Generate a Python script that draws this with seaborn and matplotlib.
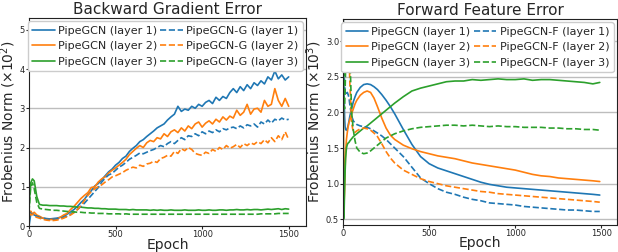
import numpy as np
import matplotlib
matplotlib.use("Agg")
import matplotlib.pyplot as plt
import seaborn as sns

# ---- Backward gradient error (x10^2) ----
bwd_epochs = np.concatenate([[0, 5, 10, 20, 30, 45, 60], np.arange(80, 1501, 20)])

bwd_pipe_l1 = [0.0, 0.15, 0.3, 0.32, 0.28, 0.25, 0.22,
               0.2, 0.19, 0.18, 0.19, 0.2, 0.22, 0.25, 0.3, 0.36, 0.42,
               0.5, 0.6, 0.68, 0.8, 0.9, 1.02, 1.08, 1.18, 1.28, 1.38,
               1.45, 1.55, 1.62, 1.72, 1.78, 1.9, 1.98, 2.05, 2.15, 2.2,
               2.28, 2.35, 2.42, 2.5, 2.55, 2.6, 2.7, 2.78, 2.85, 3.05,
               2.92, 2.98, 2.95, 3.05, 3.0, 3.1, 3.05, 3.15, 3.2, 3.12,
               3.28, 3.2, 3.3, 3.25, 3.4, 3.5, 3.4, 3.55, 3.45, 3.6,
               3.5, 3.65, 3.58, 3.7, 3.62, 3.8, 3.72, 3.95, 3.75, 3.85,
               3.72, 3.8]
bwd_pipe_l2 = [0.3, 0.35, 0.38, 0.3, 0.35, 0.28, 0.25,
               0.2, 0.18, 0.16, 0.17, 0.18, 0.22, 0.28, 0.32, 0.42, 0.5,
               0.6, 0.7, 0.78, 0.85, 0.98, 1.0, 1.12, 1.2, 1.25, 1.35,
               1.42, 1.48, 1.55, 1.62, 1.7, 1.82, 1.9, 1.98, 2.05, 2.0,
               2.12, 2.18, 2.15, 2.25, 2.22, 2.35, 2.28, 2.4, 2.45, 2.38,
               2.5, 2.42, 2.55, 2.48, 2.6, 2.65, 2.52, 2.62, 2.68, 2.6,
               2.72, 2.65, 2.78, 2.7, 2.8, 2.75, 2.95, 2.82, 2.9, 3.1,
               2.85, 2.98, 3.0, 2.9, 3.2, 3.05, 3.1, 3.5, 3.2, 3.05,
               3.25, 3.05]
bwd_pipe_l3 = [0.4, 0.8, 1.1, 1.2, 1.15, 0.75, 0.55,
               0.53, 0.53, 0.52, 0.52, 0.52, 0.51, 0.51, 0.5, 0.5, 0.49,
               0.48, 0.48, 0.47, 0.46, 0.46, 0.45, 0.45, 0.44, 0.44, 0.43,
               0.43, 0.43, 0.42, 0.42, 0.42, 0.41, 0.42, 0.41, 0.41, 0.41,
               0.41, 0.4, 0.41, 0.4, 0.41, 0.4, 0.4, 0.41, 0.4, 0.4,
               0.4, 0.41, 0.4, 0.4, 0.4, 0.41, 0.4, 0.4, 0.41, 0.4,
               0.4, 0.41, 0.41, 0.4, 0.41, 0.41, 0.42, 0.41, 0.41, 0.42,
               0.41, 0.42, 0.42, 0.41, 0.42, 0.43, 0.42, 0.43, 0.44, 0.42,
               0.44, 0.43]
bwd_g_l1 = [0.3, 0.35, 0.32, 0.3, 0.28, 0.25, 0.22,
            0.2, 0.18, 0.17, 0.17, 0.18, 0.2, 0.22, 0.25, 0.3, 0.35,
            0.42, 0.5, 0.58, 0.68, 0.78, 0.88, 0.98, 1.12, 1.22, 1.3,
            1.34, 1.42, 1.5, 1.55, 1.62, 1.7, 1.75, 1.8, 1.86, 1.84,
            1.88, 1.92, 1.95, 2.0, 2.05, 2.02, 2.1, 2.15, 2.1, 2.18,
            2.25, 2.2, 2.3, 2.28, 2.35, 2.3, 2.4, 2.35, 2.42, 2.38,
            2.45, 2.4, 2.48, 2.45, 2.5, 2.52, 2.48, 2.55, 2.5, 2.58,
            2.55, 2.6, 2.52, 2.65, 2.6, 2.7, 2.62, 2.72, 2.68, 2.75,
            2.7, 2.72]
bwd_g_l2 = [0.3, 0.32, 0.28, 0.3, 0.25, 0.22, 0.2,
            0.17, 0.15, 0.14, 0.14, 0.15, 0.17, 0.2, 0.24, 0.28, 0.34,
            0.42, 0.52, 0.65, 0.78, 0.88, 0.95, 1.0, 1.05, 1.12, 1.18,
            1.25, 1.28, 1.32, 1.36, 1.42, 1.46, 1.5, 1.48, 1.55, 1.52,
            1.58, 1.6, 1.65, 1.62, 1.72, 1.75, 1.8, 1.78, 1.9, 1.85,
            1.97, 1.92, 2.0, 1.95, 1.85, 1.82, 1.8, 1.88, 1.85, 1.95,
            1.9, 2.0, 1.95, 2.05, 1.98, 2.02, 2.08, 2.0, 2.1, 2.05,
            2.12, 2.08, 2.15, 2.1, 2.2, 2.12, 2.25, 2.15, 2.3, 2.2,
            2.4, 2.2]
bwd_g_l3 = [0.35, 0.7, 1.0, 1.1, 0.95, 0.6, 0.45,
            0.43, 0.42, 0.41, 0.4, 0.4, 0.39, 0.38, 0.37, 0.36, 0.36,
            0.35, 0.35, 0.34, 0.34, 0.33, 0.33, 0.32, 0.32, 0.32, 0.31,
            0.31, 0.31, 0.31, 0.3, 0.31, 0.3, 0.3, 0.3, 0.3, 0.3,
            0.3, 0.3, 0.3, 0.3, 0.3, 0.3, 0.3, 0.3, 0.3, 0.3,
            0.3, 0.3, 0.3, 0.3, 0.3, 0.3, 0.3, 0.3, 0.3, 0.3,
            0.3, 0.3, 0.3, 0.3, 0.3, 0.3, 0.3, 0.3, 0.3, 0.3,
            0.3, 0.3, 0.3, 0.31, 0.31, 0.31, 0.31, 0.31, 0.32, 0.32,
            0.32, 0.32]

# ---- Forward feature error (x10^3) ----
fwd_epochs = [0, 3, 6, 9, 12, 15, 20, 25, 30, 35,
              40, 50, 60, 70, 80, 100, 120, 140, 160, 180,
              200, 225, 250, 275, 300, 350, 400, 450, 500, 550,
              600, 650, 700, 750, 800, 850, 900, 950, 1000, 1050,
              1100, 1150, 1200, 1250, 1300, 1350, 1400, 1450, 1490]

fwd_pipe_l1 = [3.5, 2.9, 2.3, 1.95, 1.8, 1.76, 1.75, 1.77, 1.82, 1.88,
               1.95, 2.05, 2.15, 2.22, 2.28, 2.35, 2.39, 2.4, 2.39, 2.36,
               2.32, 2.25, 2.17, 2.08, 1.98, 1.76, 1.55, 1.38, 1.28, 1.22,
               1.18, 1.14, 1.1, 1.06, 1.02, 0.99, 0.97, 0.95, 0.94, 0.93,
               0.92, 0.91, 0.9, 0.89, 0.88, 0.87, 0.86, 0.85, 0.84]
fwd_pipe_l2 = [3.4, 1.5, 0.72, 0.9, 1.2, 1.45, 1.62, 1.72, 1.8, 1.86,
               1.9, 1.98, 2.05, 2.12, 2.17, 2.24, 2.28, 2.3, 2.28, 2.2,
               2.08, 1.92, 1.78, 1.68, 1.62, 1.54, 1.49, 1.45, 1.42, 1.39,
               1.37, 1.35, 1.32, 1.29, 1.27, 1.25, 1.23, 1.21, 1.19, 1.16,
               1.13, 1.11, 1.1, 1.08, 1.07, 1.06, 1.05, 1.04, 1.03]
fwd_pipe_l3 = [3.6, 0.5, 0.55, 0.9, 1.15, 1.35, 1.5, 1.55, 1.57, 1.58,
               1.6, 1.63, 1.66, 1.68, 1.7, 1.74, 1.78, 1.81, 1.85, 1.89,
               1.93, 1.98, 2.03, 2.08, 2.13, 2.22, 2.3, 2.34, 2.37, 2.4,
               2.43, 2.44, 2.44, 2.46, 2.45, 2.46, 2.47, 2.46, 2.46, 2.47,
               2.45, 2.46, 2.46, 2.45, 2.44, 2.43, 2.42, 2.4, 2.42]
fwd_f_l1 = [3.6, 3.2, 2.8, 2.45, 2.3, 2.25, 2.25, 2.28, 2.25, 2.2,
            2.1, 1.95, 1.88, 1.85, 1.83, 1.81, 1.8, 1.79, 1.77, 1.74,
            1.71, 1.67, 1.62, 1.56, 1.5, 1.38, 1.23, 1.08, 1.0, 0.93,
            0.88, 0.85, 0.81, 0.78, 0.76, 0.73, 0.72, 0.71, 0.7, 0.68,
            0.67, 0.66, 0.65, 0.64, 0.63, 0.63, 0.62, 0.61, 0.61]
fwd_f_l2 = [3.6, 3.0, 2.7, 3.0, 3.25, 3.25, 3.2, 3.25, 3.1, 2.8,
            2.4, 1.85, 1.72, 1.72, 1.74, 1.77, 1.78, 1.77, 1.75, 1.71,
            1.66, 1.56, 1.45, 1.36, 1.29, 1.19, 1.13, 1.07, 1.03, 1.0,
            0.97, 0.95, 0.93, 0.91, 0.89, 0.88, 0.86, 0.85, 0.84, 0.83,
            0.82, 0.81, 0.8, 0.79, 0.78, 0.77, 0.76, 0.75, 0.74]
fwd_f_l3 = [3.6, 2.8, 2.1, 2.05, 2.3, 2.6, 2.9, 3.0, 3.05, 3.05,
            2.8, 2.0, 1.75, 1.6, 1.5, 1.44, 1.42, 1.43, 1.46, 1.5,
            1.54, 1.59, 1.64, 1.67, 1.7, 1.74, 1.77, 1.79, 1.8, 1.81,
            1.82, 1.82, 1.81, 1.82, 1.81, 1.8, 1.81, 1.8, 1.8, 1.79,
            1.79, 1.79, 1.78, 1.78, 1.77, 1.77, 1.76, 1.76, 1.75]

layer_names = ["layer 1", "layer 2", "layer 3"]
colors = ["#1f77b4", "#ff7f0e", "#2ca02c"]

sns.set_style("ticks")
plt.rcParams["font.family"] = ["DejaVu Sans"]

fig = plt.figure(figsize=(6.18, 2.52), dpi=100)
ax_b = fig.add_axes([29 / 618, 26 / 252, 277 / 618, 208 / 252])
ax_f = fig.add_axes([343 / 618, 27 / 252, 274 / 618, 206 / 252])


def draw_panel(ax, epochs, solid, dashed, other_name):
    for i, ys in enumerate(solid):
        sns.lineplot(x=epochs, y=ys, ax=ax, color=colors[i], lw=1.2,
                     label=f"PipeGCN ({layer_names[i]})")
    for i, ys in enumerate(dashed):
        sns.lineplot(x=epochs, y=ys, ax=ax, color=colors[i], lw=1.2,
                     linestyle="--", label=f"{other_name} ({layer_names[i]})")
    ax.yaxis.grid(True, color="#bdbdbd", lw=1)
    ax.set_axisbelow(True)
    ax.tick_params(labelsize=6, length=2, width=0.8, pad=0.8)
    ax.set_xlabel("Epoch", fontsize=10, labelpad=-1)
    for sp in ax.spines.values():
        sp.set_color("#222222")
        sp.set_linewidth(0.8)
    ax.legend(loc="upper right", ncol=2, fontsize=8, handlelength=2.0,
              columnspacing=0.3, labelspacing=0.5, handletextpad=0.3,
              borderpad=0.4, borderaxespad=0.3, framealpha=1.0)


draw_panel(ax_b, bwd_epochs, [bwd_pipe_l1, bwd_pipe_l2, bwd_pipe_l3],
           [bwd_g_l1, bwd_g_l2, bwd_g_l3], "PipeGCN-G")
ax_b.set_xlim(0, 1600)
ax_b.set_ylim(0, 5.3)
ax_b.set_xticks([0, 500, 1000, 1500])
ax_b.set_yticks([0, 1, 2, 3, 4, 5])
ax_b.set_title("Backward Gradient Error", fontsize=11, pad=3)
ax_b.set_ylabel("Frobenius Norm ($\\times 10^2$)", fontsize=10, labelpad=1)

draw_panel(ax_f, fwd_epochs, [fwd_pipe_l1, fwd_pipe_l2, fwd_pipe_l3],
           [fwd_f_l1, fwd_f_l2, fwd_f_l3], "PipeGCN-F")
ax_f.set_xlim(0, 1590)
ax_f.set_ylim(0.42, 3.31)
ax_f.set_xticks([0, 500, 1000, 1500])
ax_f.set_yticks([0.5, 1.0, 1.5, 2.0, 2.5, 3.0])
ax_f.set_title("Forward Feature Error", fontsize=11, pad=3)
ax_f.set_ylabel("Frobenius Norm ($\\times 10^3$)", fontsize=10, labelpad=1)

fig.savefig("out.png", dpi=100)
